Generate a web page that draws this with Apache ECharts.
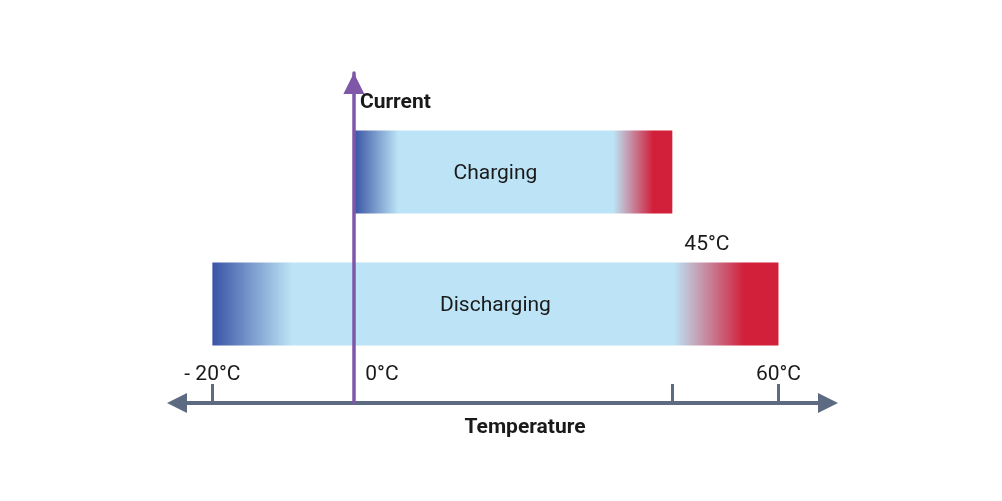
<!DOCTYPE html>
<html><head><meta charset="utf-8">
<script src="https://cdn.jsdelivr.net/npm/echarts@6/dist/echarts.min.js"></script>
<style>html,body{margin:0;padding:0;background:#fff}#c{width:1002px;height:501px}</style>
</head><body><div id="c"></div>
<script>
// ---- data ----
const yCategories = ['below', 'Discharging', 'between', 'Charging', 'above'];
const barNames = ['Charging', 'Discharging'];
const barStart = [0, -20];
const barEnd = [45, 60];
const tickTemps = [-20, 45, 60];
const labelTemps = [-20, 0, 60];
const limitTemp = 45;
const limitLabel = '45°C';
const xMin = -25, xMax = 67;

// ---- style ----
const FONT = 'Roboto, "Noto Sans", sans-serif';
const AXIS = '#5d6b82', PURPLE = '#7e57a8', TEXT = '#1a1a1a';
const LABEL_TEMP = 20;
const BAR_H = 83;

const chart = echarts.init(document.getElementById('c'), null, {renderer: 'canvas'});
const barData = barNames.map((n, i) => [barStart[i], barEnd[i], yCategories.indexOf(n)]);

function grad() {
  return new echarts.graphic.LinearGradient(0, 0, 1, 0, [
    {offset: 0, color: '#3953a5'},
    {offset: 0.14, color: '#bce4f6'},
    {offset: 0.815, color: '#bce4f6'},
    {offset: 0.94, color: '#d21f3a'},
    {offset: 1, color: '#d21f3a'}
  ]);
}

const option = {
  animation: false,
  grid: {left: 177, right: 174, top: 73, bottom: 98},
  xAxis: {
    type: 'value', min: xMin, max: xMax,
    splitLine: {show: false},
    axisLine: {show: true, lineStyle: {color: AXIS, width: 4},
      symbol: ['triangle', 'triangle'], symbolSize: [20, 20]},
    axisTick: {show: true, inside: true, length: 19, customValues: tickTemps,
      lineStyle: {color: AXIS, width: 3}},
    axisLabel: {show: true, inside: true, margin: 18, customValues: labelTemps,
      formatter: v => v < 0 ? '- ' + Math.abs(v) + '°C' : (v === 0 ? '{z|0°C}' : v + '°C'),
      color: TEXT, fontSize: 21, fontFamily: FONT,
      rich: {z: {padding: [0, 0, 0, 56], fontSize: 21, color: TEXT, fontFamily: FONT}}},
    name: 'Temperature', nameLocation: 'middle', nameGap: 14,
    nameTextStyle: {fontSize: 21, fontWeight: 'bold', color: TEXT, fontFamily: FONT, padding: [0, 0, 0, 45]}
  },
  yAxis: {
    type: 'category', data: yCategories, z: 5,
    axisLine: {show: true, onZero: true, lineStyle: {color: PURPLE, width: 3.5},
      symbol: ['none', 'triangle'], symbolSize: [21, 21], symbolOffset: [0, -10.5]},
    axisTick: {show: false}, axisLabel: {show: false}, splitLine: {show: false},
    name: 'Current', nameLocation: 'end', nameGap: -30,
    nameTextStyle: {fontSize: 21, fontWeight: 'bold', color: TEXT, fontFamily: FONT,
      align: 'left', verticalAlign: 'middle', padding: [0, 0, 0, 6]}
  },
  series: [
    {
      type: 'custom', z: 2, data: barData, encode: {x: [0, 1], y: 2},
      renderItem: (params, api) => {
        const s = api.coord([api.value(0), api.value(2)]);
        const e = api.coord([api.value(1), api.value(2)]);
        const lx = api.coord([LABEL_TEMP, api.value(2)])[0];
        return {type: 'group', children: [
          {type: 'rect', shape: {x: s[0], y: s[1] - BAR_H / 2, width: e[0] - s[0], height: BAR_H},
            style: {fill: grad()}},
          {type: 'text', style: {text: barNames[params.dataIndex], x: lx, y: s[1] + 2,
            align: 'center', verticalAlign: 'middle', fontSize: 21, fontFamily: FONT, fill: TEXT}}
        ]};
      }
    },
    {
      type: 'custom', z: 3, data: [[limitTemp, yCategories.indexOf('between')]], encode: {x: 0, y: 1},
      renderItem: (params, api) => {
        const c = api.coord([api.value(0), api.value(1)]);
        return {type: 'text', style: {text: limitLabel, x: c[0] + 12, y: c[1] + 7,
          align: 'left', verticalAlign: 'middle', fontSize: 21, fontFamily: FONT, fill: TEXT}};
      }
    }
  ]
};
chart.setOption(option);
</script>
</body></html>
